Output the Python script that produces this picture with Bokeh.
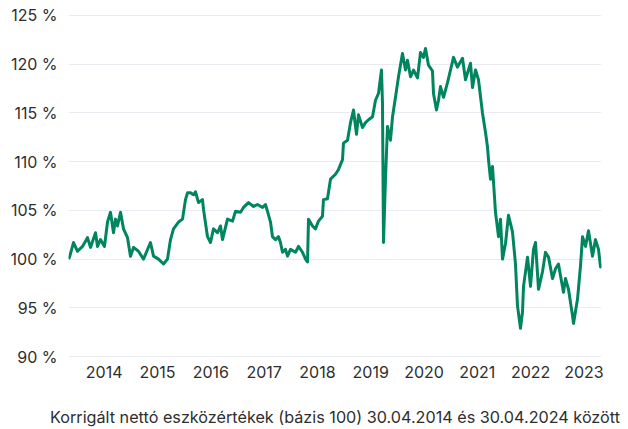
from bokeh.plotting import figure
from bokeh.models import Range1d, FixedTicker, PrintfTickFormatter
from bokeh.embed import file_html
from bokeh.resources import INLINE

# Decimal years (30.04.2014 -> 30.04.2024) and index values (base 100)
dates = [
    2014.330, 2014.349, 2014.424, 2014.499, 2014.593, 2014.686, 2014.743, 2014.837, 2014.874, 2014.930,
    2015.005, 2015.062, 2015.118, 2015.174, 2015.212, 2015.249, 2015.306, 2015.362, 2015.437, 2015.493,
    2015.550, 2015.643, 2015.737, 2015.868, 2015.925, 2016.019, 2016.112, 2016.187, 2016.244, 2016.300,
    2016.394, 2016.469, 2016.525, 2016.563, 2016.619, 2016.675, 2016.713, 2016.769, 2016.844, 2016.863,
    2016.938, 2016.994, 2017.050, 2017.125, 2017.182, 2017.219, 2017.313, 2017.407, 2017.463, 2017.557,
    2017.613, 2017.707, 2017.801, 2017.876, 2017.970, 2018.026, 2018.064, 2018.120, 2018.157, 2018.214,
    2018.270, 2018.307, 2018.345, 2018.401, 2018.439, 2018.495, 2018.589, 2018.645, 2018.720, 2018.777,
    2018.814, 2018.833, 2018.908, 2018.964, 2019.020, 2019.095, 2019.114, 2019.189, 2019.246, 2019.339,
    2019.396, 2019.471, 2019.489, 2019.565, 2019.621, 2019.677, 2019.733, 2019.771, 2019.846, 2019.902,
    2019.959, 2020.034, 2020.090, 2020.146, 2020.202, 2020.221, 2020.240, 2020.277, 2020.315, 2020.371,
    2020.409, 2020.465, 2020.521, 2020.596, 2020.653, 2020.690, 2020.747, 2020.803, 2020.878, 2020.934,
    2020.990, 2021.028, 2021.084, 2021.159, 2021.178, 2021.234, 2021.272, 2021.309, 2021.366, 2021.441,
    2021.497, 2021.553, 2021.628, 2021.722, 2021.778, 2021.872, 2021.910, 2021.966, 2022.022, 2022.097,
    2022.154, 2022.191, 2022.210, 2022.247, 2022.285, 2022.341, 2022.398, 2022.435, 2022.473, 2022.529,
    2022.585, 2022.660, 2022.716, 2022.754, 2022.810, 2022.848, 2022.867, 2022.942, 2022.998, 2023.054,
    2023.092, 2023.148, 2023.223, 2023.279, 2023.336, 2023.411, 2023.467, 2023.523, 2023.561, 2023.617,
    2023.655, 2023.711, 2023.786, 2023.805, 2023.880, 2023.936, 2023.974, 2024.030, 2024.086, 2024.161,
    2024.217, 2024.274, 2024.311, 2024.330,
]
values = [
    100.0, 100.2, 101.7, 100.8, 101.3, 102.2, 101.2, 102.7, 101.3, 102.0,
    101.3, 103.8, 104.8, 102.7, 104.1, 103.4, 104.8, 103.1, 102.2, 100.3,
    101.2, 100.8, 100.0, 101.7, 100.3, 100.0, 99.5, 100.0, 102.0, 103.1,
    103.8, 104.1, 106.1, 106.8, 106.8, 106.6, 106.9, 105.8, 106.1, 105.1,
    102.3, 101.7, 103.1, 102.7, 103.4, 102.0, 104.1, 103.9, 104.9, 104.8,
    105.3, 105.8, 105.4, 105.6, 105.3, 105.6, 104.9, 103.8, 102.3, 102.0,
    102.3, 101.7, 100.7, 101.0, 100.3, 101.0, 100.7, 101.3, 100.7, 100.0,
    99.7, 104.1, 103.4, 103.1, 103.9, 104.4, 106.1, 106.2, 108.2, 108.7,
    109.2, 110.2, 111.9, 112.2, 114.0, 115.3, 112.8, 114.8, 113.5, 114.0,
    114.3, 114.6, 116.3, 117.0, 119.4, 116.0, 101.7, 108.2, 113.6, 112.2,
    114.6, 116.6, 118.7, 121.1, 119.4, 120.4, 118.7, 119.4, 118.6, 121.2,
    120.7, 121.6, 119.9, 119.3, 117.0, 115.3, 116.3, 117.7, 116.6, 118.1,
    119.4, 120.7, 119.7, 120.6, 118.4, 120.1, 117.6, 119.4, 118.4, 115.0,
    113.0, 111.5, 110.2, 108.2, 109.5, 104.8, 102.3, 104.1, 100.0, 101.6,
    104.5, 102.8, 99.5, 95.2, 92.9, 94.6, 97.2, 100.2, 97.2, 101.0,
    101.7, 96.9, 98.7, 100.7, 100.2, 98.0, 99.0, 99.5, 98.3, 96.6,
    98.0, 96.9, 94.2, 93.4, 95.9, 99.3, 102.3, 101.3, 102.9, 100.3,
    102.0, 101.0, 99.2, 99.5,
]

x_ticks = [2015, 2016, 2017, 2018, 2019, 2020, 2021, 2022, 2023, 2024]
x_tick_labels = ["2014", "2015", "2016", "2017", "2018", "2019", "2020", "2021", "2022", "2023"]
y_ticks = [90, 95, 100, 105, 110, 115, 120, 125]
caption = "Korrigált nettó eszközértékek (bázis 100) 30.04.2014 és 30.04.2024 között"

FONT = "Inter"
TXT = "#2e2e2e"

p = figure(width=628, height=429, output_backend="svg", toolbar_location=None,
           x_range=Range1d(2014.33, 2024.33), y_range=Range1d(89.8, 125.2),
           min_border_left=68, min_border_right=27, min_border_top=13, min_border_bottom=69)
p.outline_line_color = None
p.background_fill_color = "white"
p.border_fill_color = "white"

p.line(dates, values, line_color="#00855f", line_width=3, line_join="round")

p.xgrid.grid_line_color = None
p.ygrid.grid_line_color = "#e8ecf0"
p.ygrid.grid_line_width = 1.2

p.xaxis.ticker = FixedTicker(ticks=x_ticks)
p.xaxis.major_label_overrides = {t: l for t, l in zip(x_ticks, x_tick_labels)}
p.yaxis.ticker = FixedTicker(ticks=y_ticks)
p.yaxis.formatter = PrintfTickFormatter(format="%d %%")

for ax in (p.xaxis, p.yaxis):
    ax.axis_line_color = None
    ax.major_tick_line_color = None
    ax.minor_tick_line_color = None
    ax.major_tick_out = 0
    ax.major_tick_in = 0
    ax.minor_tick_out = 0
    ax.major_label_text_font = FONT
    ax.major_label_text_color = TXT
    ax.major_label_text_font_size = "16px"

p.xaxis.major_label_standoff = 7
p.yaxis.major_label_standoff = 11

p.xaxis.axis_label = caption
p.xaxis.axis_label_text_font = FONT
p.xaxis.axis_label_text_font_style = "normal"
p.xaxis.axis_label_text_font_size = "16.2px"
p.xaxis.axis_label_text_color = TXT
p.xaxis.axis_label_standoff = 26

open("out.html", "w").write(file_html(p, INLINE))
